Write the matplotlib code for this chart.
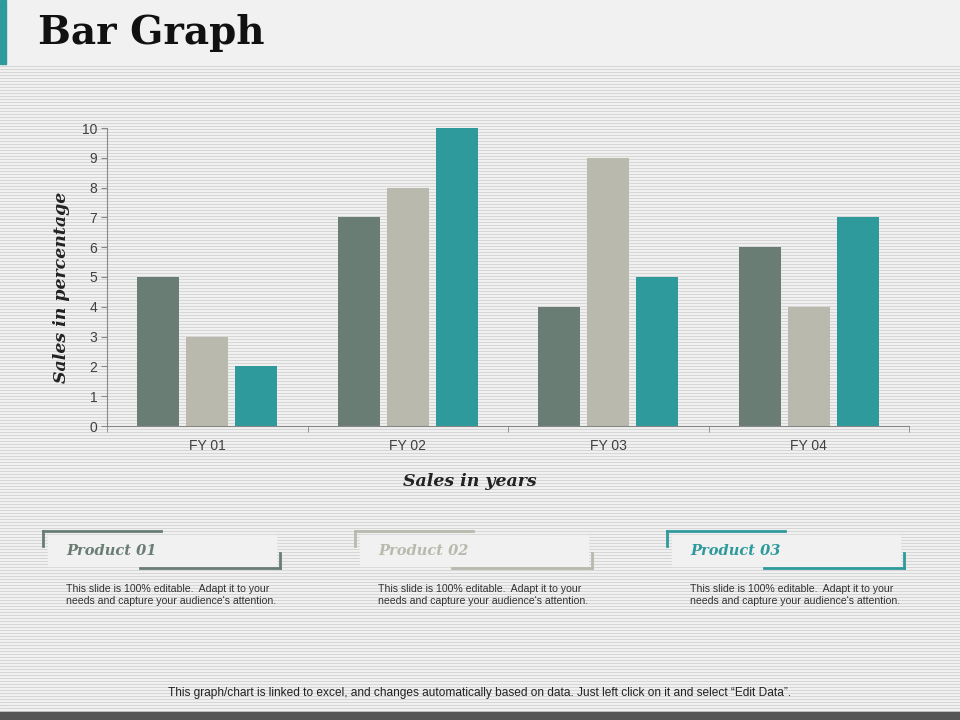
import numpy as np
import matplotlib.pyplot as plt
from matplotlib.patches import Rectangle

categories = ["FY 01", "FY 02", "FY 03", "FY 04"]
product_01 = [5, 7, 4, 6]
product_02 = [3, 8, 9, 4]
product_03 = [2, 10, 5, 7]
series_names = ["Product 01", "Product 02", "Product 03"]
colors = ["#6a7d74", "#b9b9ad", "#2e9a9c"]
note = "This slide is 100% editable.  Adapt it to your\nneeds and capture your audience's attention."

fig = plt.figure(figsize=(9.6, 7.2), dpi=100)

# background layer in pixel coords
bg = fig.add_axes([0, 0, 1, 1], zorder=-10)
bg.set_xlim(0, 960)
bg.set_ylim(720, 0)
bg.axis("off")
stripes = np.array([[0.84] if i % 3 == 0 else [0.945] for i in range(720)])
stripes = np.repeat(stripes[:, :, None], 3, axis=2)
bg.imshow(stripes, aspect="auto", extent=[0, 960, 720, 0], interpolation="nearest")
bg.add_patch(Rectangle((0, 0), 960, 64, color="#f1f1f1"))
bg.add_patch(Rectangle((0, 0), 6, 64, color="#2e9a9c"))
bg.add_patch(Rectangle((0, 712), 960, 8, color="#555555"))
bg.text(38, 33, "Bar Graph", fontsize=28, fontweight="bold", family="DejaVu Serif",
        va="center", ha="left", color="#111111")

# legend cards
for i, (name, c) in enumerate(zip(series_names, colors)):
    x0 = 43 + i * 312
    bg.add_patch(Rectangle((x0 + 5, 535), 228, 31, color="#f1f1f1", zorder=2))
    bg.plot([x0, x0 + 118], [531, 531], color=c, lw=2, zorder=3)
    bg.plot([x0, x0], [531, 546], color=c, lw=2, zorder=3)
    bg.plot([x0 + 97, x0 + 237], [568, 568], color=c, lw=2, zorder=3)
    bg.plot([x0 + 237, x0 + 237], [553, 568], color=c, lw=2, zorder=3)
    bg.text(x0 + 23, 551, name, fontsize=10.5, fontweight="bold", fontstyle="italic",
            family="DejaVu Serif", color=c, va="center", ha="left", zorder=4)
    bg.text(x0 + 23, 595, note, fontsize=7.6, family="Liberation Sans",
            color="#333333", va="center", ha="left", linespacing=1.15, zorder=4)

bg.text(480, 693, "This graph/chart is linked to excel, and changes automatically based on data. "
        "Just left click on it and select \u201cEdit Data\u201d.",
        fontsize=8.6, family="Liberation Sans", color="#222222", ha="center", va="center")

# chart
ax = fig.add_axes([107 / 960, (720 - 426) / 720, (909 - 107) / 960, (426 - 128) / 720])
ax.patch.set_alpha(0)
x = np.arange(len(categories))
w = 0.21
for k, vals in enumerate([product_01, product_02, product_03]):
    ax.bar(x + (k - 1) * 0.245, vals, width=w, color=colors[k], label=series_names[k])

ax.set_xlim(-0.5, len(categories) - 0.5)
ax.set_ylim(0, 10)
ax.set_yticks(range(0, 11))
ax.set_xticks(x)
ax.set_xticklabels(categories)
ax.set_xticks(np.arange(-0.5, len(categories)), minor=True)
ax.tick_params(axis="x", which="major", length=0, pad=9)
ax.tick_params(axis="x", which="minor", length=4, color="#888888", direction="out")
ax.tick_params(axis="y", length=4, color="#888888", pad=3)
ax.tick_params(labelsize=10, labelcolor="#404040")
for lab in ax.get_xticklabels() + ax.get_yticklabels():
    lab.set_family("Liberation Sans")
for s in ["top", "right"]:
    ax.spines[s].set_visible(False)
for s in ["left", "bottom"]:
    ax.spines[s].set_color("#888888")

fig.text(62 / 960, 1 - 287 / 720, "Sales in percentage", rotation=90, fontsize=12.5,
         fontweight="bold", fontstyle="italic", family="DejaVu Serif",
         color="#222222", ha="center", va="center")
fig.text(470 / 960, 1 - 482 / 720, "Sales in years", fontsize=12.5,
         fontweight="bold", fontstyle="italic", family="DejaVu Serif",
         color="#222222", ha="center", va="center")

fig.savefig("out.png", dpi=100)
